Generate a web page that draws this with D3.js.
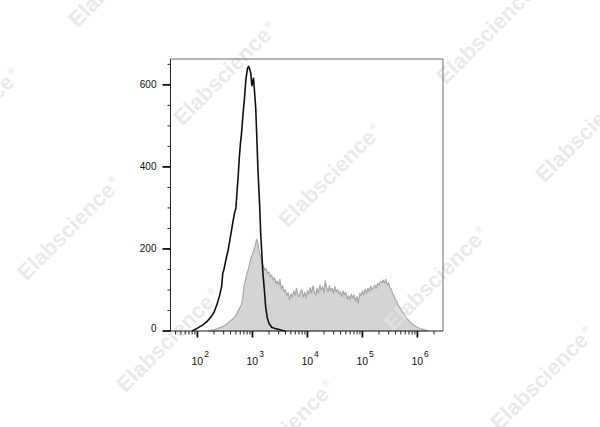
<!DOCTYPE html>
<html>
<head>
<meta charset="utf-8">
<script src="https://cdn.jsdelivr.net/npm/d3@7/dist/d3.min.js"></script>
<style>
  html, body { margin: 0; padding: 0; background: #fff; }
  svg { display: block; }
</style>
</head>
<body>
<div id="chart"></div>
<script>
// ---------- DATA ----------
// Stained sample (gray filled histogram): x = log10(fluorescence), y = count
const grayLog10 = [2.20,2.25,2.30,2.35,2.40,2.45,2.50,2.55,2.60,2.65,2.70,2.75,
  2.800,2.825,2.850,2.875,2.900,2.925,2.950,2.975,3.000,3.025,3.050,3.075,3.100,3.125,3.150,3.175,
  3.200,3.225,3.250,3.275,3.300,3.325,3.350,3.375,3.400,3.425,3.450,3.475,3.500,3.525,3.550,3.575,
  3.600,3.625,3.650,3.675,3.700,3.725,3.750,3.775,3.800,3.825,3.850,3.875,3.900,3.925,3.950,3.975,
  4.000,4.025,4.050,4.075,4.100,4.125,4.150,4.175,4.200,4.225,4.250,4.275,4.300,4.325,4.350,4.375,
  4.400,4.425,4.450,4.475,4.500,4.525,4.550,4.575,4.600,4.625,4.650,4.675,4.700,4.725,4.750,4.775,
  4.800,4.825,4.850,4.875,4.900,4.925,4.950,4.975,5.000,5.025,5.050,5.075,5.100,5.125,5.150,5.175,
  5.200,5.225,5.250,5.275,5.300,5.325,5.350,5.375,5.400,5.425,5.450,5.475,5.500,5.525,5.550,5.575,
  5.600,5.625,5.650,5.675,5.700,5.725,5.750,5.775,5.800,5.85,5.90,5.95,6.00,6.05,6.10,6.15,6.20];
const grayCount = [0,2,3,5,8,10,14,19,25,30,38,52,
  64,80,112,126,140,150,164,180,186,198,206,224,214,190,182,164,
  158,148,152,140,144,132,136,124,130,116,122,112,126,104,110,96,
  100,86,94,76,90,82,98,86,104,88,84,96,100,82,94,80,
  98,90,106,92,110,96,88,104,92,112,100,108,94,122,104,96,
  110,98,104,92,108,96,100,90,96,84,98,88,94,78,86,76,
  90,80,88,72,84,68,92,86,98,88,102,92,104,96,110,100,
  106,112,104,116,112,120,118,124,116,126,112,118,106,102,90,86,
  76,72,64,58,54,46,44,38,32,24,18,13,9,6,4,2,0];

// Control sample (black outline histogram)
const blackLog10 = [1.90,1.95,2.00,2.10,2.18,2.25,2.30,2.35,2.40,2.44,2.46,2.48,2.52,2.56,2.59,2.62,
  2.65,2.68,2.70,2.72,2.74,2.76,2.78,2.80,2.83,2.86,2.88,2.91,2.93,2.95,2.97,2.99,3.00,3.02,3.04,
  3.06,3.08,3.10,3.13,3.15,3.17,3.19,3.22,3.24,3.27,3.30,3.35,3.41,3.45,3.50,3.55,3.60];
const blackCount = [0,3,7,15,24,35,45,63,85,108,140,149,175,198,222,246,
  270,291,300,340,376,420,455,480,531,575,612,640,645,638,628,598,604,616,580,
  543,470,393,310,238,190,141,95,59,32,19,9,6,5,3,1,0];

const yTicks = [0, 200, 400, 600];
const xDecades = [2, 3, 4, 5, 6];
const watermarkText = "Elabscience";

// ---------- LAYOUT ----------
const W = 600, H = 427;
const frame = { left: 170.5, right: 443, top: 59, bottom: 331 };

const svg = d3.select("#chart").append("svg")
  .attr("width", W).attr("height", H)
  .style("font-family", "'Liberation Sans', Arial, sans-serif");

const x = d3.scaleLog()
  .domain([Math.pow(10, 1.51), Math.pow(10, 6.465)])
  .range([frame.left, frame.right]);
const y = d3.scaleLinear()
  .domain([0, 663])
  .range([frame.bottom, frame.top]);

const grayData = grayLog10.map((l, i) => ({ v: Math.pow(10, l), c: grayCount[i] }));
const blackData = blackLog10.map((l, i) => ({ v: Math.pow(10, l), c: blackCount[i] }));

// gray filled histogram
svg.append("path")
  .datum(grayData)
  .attr("fill", "#d4d4d4")
  .attr("stroke", "#a8a8a8")
  .attr("stroke-width", 1.2)
  .attr("stroke-linejoin", "round")
  .attr("d", d3.area().x(d => x(d.v)).y0(y(0)).y1(d => y(d.c)));

// watermarks
const wmCenters = [[120,-25],[225,73],[330,175],[436,278],[542,378],
  [-32,120],[69,228],[168,340],[283,432],[488,32],[587,130]];
const wm = svg.append("g").attr("pointer-events", "none");
wmCenters.forEach(([cx, cy]) => {
  const t = wm.append("text")
    .attr("transform", `translate(${cx},${cy}) rotate(-45)`)
    .attr("text-anchor", "middle")
    .attr("dy", "0.35em")
    .attr("font-size", 22)
    .attr("font-weight", "bold")
    .attr("fill", "#e4e4e4")
    .attr("fill-opacity", 0.8);
  t.append("tspan").text(watermarkText);
  t.append("tspan").attr("font-size", 9).attr("dy", "-1em").attr("dx", 2).text("®");
});

// black outline histogram
svg.append("path")
  .datum(blackData)
  .attr("fill", "none")
  .attr("stroke", "#111")
  .attr("stroke-width", 1.6)
  .attr("stroke-linejoin", "round")
  .attr("d", d3.line().x(d => x(d.v)).y(d => y(d.c)));

// frame: top/right gray
svg.append("path")
  .attr("d", `M${frame.left},${frame.top}H${frame.right}V${frame.bottom}`)
  .attr("fill", "none").attr("stroke", "#6e6e6e").attr("stroke-width", 1);

// Y axis
const yMinor = d3.range(0, 663, 50);
const yAxis = svg.append("g");
yAxis.append("line")
  .attr("x1", frame.left).attr("x2", frame.left)
  .attr("y1", frame.top).attr("y2", frame.bottom)
  .attr("stroke", "#222").attr("stroke-width", 1);
yAxis.selectAll(".ymin").data(yMinor).join("line")
  .attr("x1", frame.left - 3).attr("x2", frame.left)
  .attr("y1", d => y(d)).attr("y2", d => y(d))
  .attr("stroke", "#222").attr("stroke-width", 1);
yAxis.selectAll(".ymaj").data(yTicks).join("line")
  .attr("x1", frame.left - 8).attr("x2", frame.left)
  .attr("y1", d => y(d)).attr("y2", d => y(d))
  .attr("stroke", "#111").attr("stroke-width", 1.8);
yAxis.selectAll("text").data(yTicks).join("text")
  .attr("x", frame.left - 14)
  .attr("y", d => y(d))
  .attr("dy", d => d === 0 ? "0.1em" : "0.35em")
  .attr("text-anchor", "end")
  .attr("font-size", 10)
  .attr("fill", "#111")
  .text(d => d);

// X axis
const xAxis = svg.append("g");
xAxis.append("line")
  .attr("x1", frame.left).attr("x2", frame.right)
  .attr("y1", frame.bottom).attr("y2", frame.bottom)
  .attr("stroke", "#222").attr("stroke-width", 1);
const [d0, d1] = x.domain();
const minorVals = [];
for (let e = 1; e <= 6; e++) {
  for (let k = 2; k <= 9; k++) {
    const v = k * Math.pow(10, e);
    if (v >= d0 && v <= d1) minorVals.push(v);
  }
}
xAxis.selectAll(".xmin").data(minorVals).join("line")
  .attr("x1", d => x(d)).attr("x2", d => x(d))
  .attr("y1", frame.bottom).attr("y2", frame.bottom + 3.5)
  .attr("stroke", "#222").attr("stroke-width", 1);
xAxis.selectAll(".xmaj").data(xDecades).join("line")
  .attr("x1", d => x(Math.pow(10, d))).attr("x2", d => x(Math.pow(10, d)))
  .attr("y1", frame.bottom).attr("y2", frame.bottom + 6.5)
  .attr("stroke", "#111").attr("stroke-width", 1.8);
const xl = xAxis.selectAll("text").data(xDecades).join("text")
  .attr("x", d => x(Math.pow(10, d)) - 6)
  .attr("y", frame.bottom + 34)
  .attr("font-size", 10.5)
  .attr("fill", "#111");
xl.append("tspan").text("10");
xl.append("tspan").attr("dy", -8).attr("dx", 1).attr("font-size", 8.5).text(d => d);
</script>
</body>
</html>
